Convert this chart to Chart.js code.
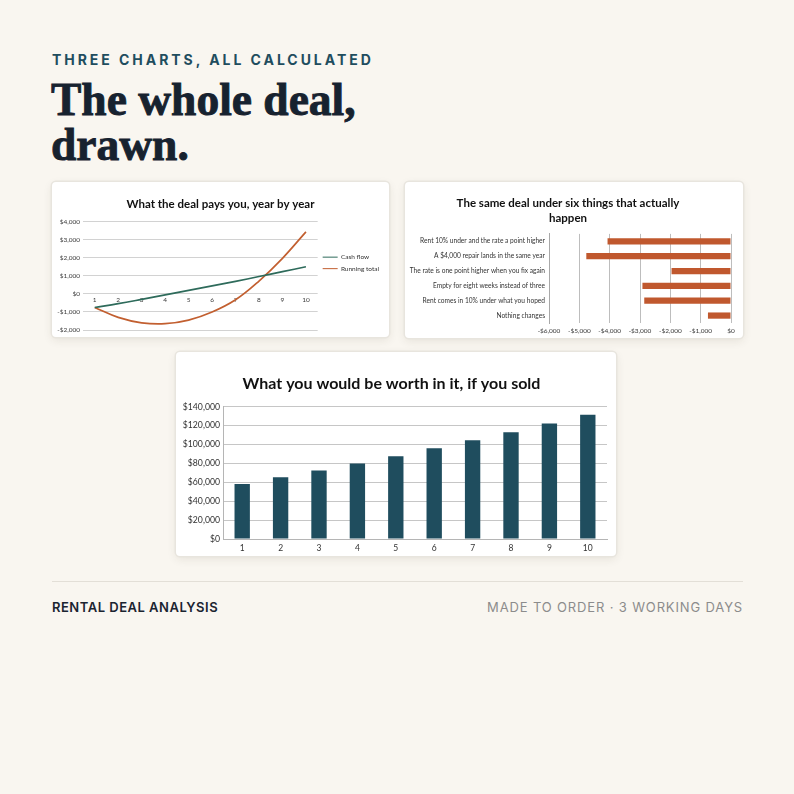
<!DOCTYPE html>
<html>
<head>
<meta charset="utf-8">
<script src="https://cdn.jsdelivr.net/npm/chart.js@4.4.1/dist/chart.umd.min.js"></script>
<style>
  html, body {
    margin: 0;
    padding: 0;
  }
  body {
    width: 794px;
    height: 794px;
    background: #f9f6f0;
    position: relative;
    overflow: hidden;
  }
  .kicker {
    position: absolute;
    left: 52px;
    top: 51px;
    font-family: Inter, 'Noto Sans', sans-serif;
    font-weight: 700;
    font-size: 14px;
    line-height: 18px;
    letter-spacing: 2.95px;
    color: #1f4d5e;
  }
  .headline {
    position: absolute;
    left: 51px;
    top: 77px;
    margin: 0;
    font-family: 'Liberation Serif', serif;
    font-weight: 700;
    font-size: 45.5px;
    line-height: 45px;
    color: #17222f;
    -webkit-text-stroke: 0.9px #17222f;
  }
  .card {
    position: absolute;
    background: #fff;
    border-radius: 4px;
    box-shadow: 0 0 0 1.5px #e8e5de, 0 3px 10px rgba(60, 50, 30, 0.10);
  }
  .card canvas {
    display: block;
  }
  .rule {
    position: absolute;
    left: 52px;
    top: 581px;
    width: 691px;
    height: 1px;
    background: #e3dfd7;
  }
  .foot {
    position: absolute;
    top: 599px;
    font-family: Inter, 'Noto Sans', sans-serif;
    font-size: 13px;
    line-height: 16px;
  }
  .foot.left {
    left: 52px;
    font-weight: 600;
    letter-spacing: 0.5px;
    color: #1b2430;
  }
  .foot.right {
    right: 51px;
    font-weight: 400;
    letter-spacing: 0.85px;
    color: #8c8c8c;
  }
</style>
</head>
<body>
<div class="kicker">THREE CHARTS, ALL CALCULATED</div>
<h1 class="headline">The whole deal,<br>drawn.</h1>

<div class="card" style="left:52px; top:182px; width:337px; height:155px;">
  <canvas id="cashChart" width="337" height="155"></canvas>
</div>
<div class="card" style="left:405px; top:182px; width:338px; height:156px;">
  <canvas id="scenarioChart" width="338" height="156"></canvas>
</div>
<div class="card" style="left:176px; top:352px; width:440px; height:204px;">
  <canvas id="equityChart" width="440" height="204"></canvas>
</div>

<div class="rule"></div>
<div class="foot left">RENTAL DEAL ANALYSIS</div>
<div class="foot right">MADE TO ORDER · 3 WORKING DAYS</div>

<script>
// values
const years = ['1', '2', '3', '4', '5', '6', '7', '8', '9', '10']
const cashFlow = [-750, -540, -300, -50, 200, 450, 700, 970, 1240, 1510]
const runningTotal = [-750, -1300, -1600, -1650, -1450, -1000, -320, 720, 1980, 3450]

const scenarios = [
  'Rent 10% under and the rate a point higher',
  'A $4,000 repair lands in the same year',
  'The rate is one point higher when you fix again',
  'Empty for eight weeks instead of three',
  'Rent comes in 10% under what you hoped',
  'Nothing changes',
]
const scenarioImpact = [-4070, -4770, -1960, -2920, -2860, -760]

const equityIfSold = [58300, 65400, 72500, 79900, 87700, 96200, 104600, 113100, 122300, 131500]

const green = '#2e6b5b'
const orange = '#c25f30'
const barOrange = '#c0582e'
const teal = '#1f4d5e'

Chart.defaults.font.family = 'Lato, Carlito, sans-serif'
Chart.defaults.color = '#3a3a3a'
Chart.defaults.animation = false

function money(value) {
  const sign = value < 0 ? '-' : ''
  return sign + '$' + Math.abs(value).toLocaleString('en-US')
}

function fixWidth(px) {
  return scale => { scale.width = px }
}

function fixHeight(px) {
  return scale => { scale.height = px }
}

function chartTitle(text, size, top, bottom) {
  return {
    display: true,
    text: text,
    color: '#111',
    font: {size: size, weight: 'bold', lineHeight: 1.3},
    padding: {top: top, bottom: bottom},
  }
}

new Chart(document.getElementById('cashChart'), {
  type: 'line',
  data: {
    labels: years,
    datasets: [
      {label: 'Cash flow', data: cashFlow, borderColor: green, backgroundColor: green},
      {label: 'Running total', data: runningTotal, borderColor: orange, backgroundColor: orange},
    ],
  },
  options: {
    responsive: false,
    layout: {padding: {left: 0, right: 0, top: 0, bottom: 7}},
    elements: {
      line: {borderWidth: 1.7, tension: 0.4},
      point: {radius: 0},
    },
    scales: {
      x: {
        position: {y: 0},
        offset: true,
        grid: {display: false, drawTicks: false},
        border: {display: false},
        ticks: {font: {size: 6.5}, padding: 2},
      },
      y: {
        min: -2000,
        max: 4000,
        afterFit: fixWidth(31),
        grid: {color: '#d2d2d2', drawTicks: false},
        border: {display: false},
        ticks: {stepSize: 1000, font: {size: 6.5}, padding: 3, callback: money},
      },
    },
    plugins: {
      title: chartTitle('What the deal pays you, year by year', 11.5, 15, 10),
      legend: {
        position: 'right',
        title: {display: true, text: ' ', padding: 3, font: {size: 6.5}},
        labels: {
          usePointStyle: true,
          pointStyle: 'line',
          pointStyleWidth: 15,
          boxWidth: 15,
          boxHeight: 2,
          padding: 5,
          font: {size: 6.5},
          color: '#333',
        },
      },
      tooltip: {enabled: false},
    },
  },
})

new Chart(document.getElementById('scenarioChart'), {
  type: 'bar',
  data: {
    labels: scenarios,
    datasets: [{data: scenarioImpact, backgroundColor: barOrange, barPercentage: 0.42, categoryPercentage: 1}],
  },
  options: {
    responsive: false,
    indexAxis: 'y',
    layout: {padding: {left: 0, right: 12, top: 0, bottom: 0}},
    scales: {
      x: {
        min: -6000,
        max: 0,
        afterFit: fixHeight(15),
        grid: {color: '#bdbdbd', drawTicks: false},
        border: {display: false},
        ticks: {stepSize: 1000, font: {size: 6.5}, padding: 4, callback: money},
      },
      y: {
        afterFit: fixWidth(144),
        grid: {display: false, drawTicks: false},
        border: {display: true, color: '#a8a8a8'},
        ticks: {font: {size: 6.6}, padding: 4, color: '#333'},
      },
    },
    plugins: {
      title: chartTitle(['The same deal under six things that actually', 'happen'], 11.5, 14, 8),
      legend: {display: false},
      tooltip: {enabled: false},
    },
  },
})

new Chart(document.getElementById('equityChart'), {
  type: 'bar',
  data: {
    labels: years,
    datasets: [{data: equityIfSold, backgroundColor: teal, barPercentage: 0.4, categoryPercentage: 1}],
  },
  options: {
    responsive: false,
    layout: {padding: {left: 0, right: 9, top: 0, bottom: 0}},
    scales: {
      x: {
        afterFit: fixHeight(17),
        grid: {display: false, drawTicks: false},
        border: {display: true, color: '#b5b5b5'},
        ticks: {font: {size: 8.5}, padding: 4, color: '#333'},
      },
      y: {
        min: 0,
        max: 140000,
        afterFit: fixWidth(47),
        grid: {color: '#c6c6c6', drawTicks: false},
        border: {display: true, color: '#b5b5b5'},
        ticks: {stepSize: 20000, font: {size: 8.7}, padding: 3, color: '#333', callback: money},
      },
    },
    plugins: {
      title: chartTitle('What you would be worth in it, if you sold', 16, 21, 13),
      legend: {display: false},
      tooltip: {enabled: false},
    },
  },
})
</script>
</body>
</html>
